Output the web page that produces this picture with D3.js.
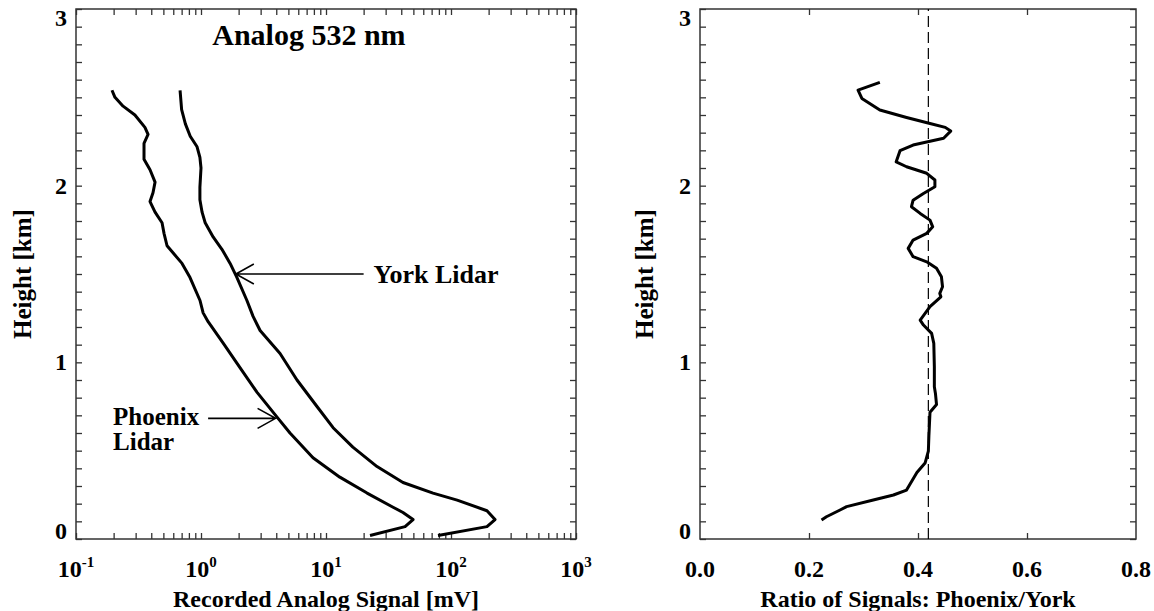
<!DOCTYPE html>
<html>
<head>
<meta charset="utf-8">
<script src="https://cdn.jsdelivr.net/npm/d3@7"></script>
<style>
  body { margin: 0; background: #fff; }
  text { font-family: "Liberation Serif", "Times New Roman", serif; font-weight: bold; fill: #000; }
</style>
</head>
<body>
<svg id="chart" width="1154" height="611"></svg>
<script>
// Lidar profiles, values
const yorkHeight = [2.54, 2.43, 2.35, 2.28, 2.22, 2.16, 2.10, 1.99, 1.92, 1.85, 1.79, 1.71, 1.64, 1.56, 1.48, 1.35,
    1.26, 1.18, 1.05, 0.90, 0.75, 0.63, 0.52, 0.41, 0.32, 0.26, 0.22, 0.16, 0.11, 0.07, 0.02];
const yorkSignal = [0.68, 0.70, 0.75, 0.82, 0.93, 0.98, 1.00, 0.98, 0.98, 1.02, 1.08, 1.25, 1.47, 1.71, 1.94, 2.33,
    2.61, 2.97, 4.29, 5.86, 8.47, 11.4, 16.4, 25.6, 41.3, 71.8, 112, 194, 225, 194, 78.7];

const phoenixHeight = [2.54, 2.50, 2.45, 2.40, 2.33, 2.29, 2.24, 2.15, 2.09, 2.02, 1.96, 1.91, 1.85, 1.79, 1.73, 1.66,
    1.62, 1.56, 1.48, 1.35, 1.28, 1.23, 1.11, 0.97, 0.83, 0.69, 0.60, 0.46, 0.35, 0.26, 0.18, 0.15, 0.11, 0.07, 0.02];
const phoenixSignal = [0.194, 0.205, 0.238, 0.296, 0.356, 0.377, 0.350, 0.350, 0.391, 0.429, 0.413, 0.391, 0.429, 0.488,
    0.506, 0.535, 0.597, 0.705, 0.817, 0.982, 1.04, 1.14, 1.50, 2.05, 2.81, 4.06, 5.15, 7.87, 12.9, 21.3, 34.4, 41.3,
    49.7, 42.9, 22.5];

const ratioHeight = [2.585, 2.541, 2.494, 2.428, 2.386, 2.352, 2.330, 2.309, 2.268, 2.230, 2.198, 2.135, 2.107, 2.070,
    2.032, 1.994, 1.956, 1.918, 1.881, 1.843, 1.805, 1.767, 1.730, 1.692, 1.645, 1.598, 1.569, 1.532, 1.484, 1.428,
    1.390, 1.371, 1.315, 1.239, 1.211, 1.164, 1.107, 0.975, 0.862, 0.824, 0.761, 0.717, 0.585, 0.497, 0.430, 0.376,
    0.277, 0.249, 0.221, 0.183, 0.164, 0.126, 0.108];
const ratioValue = [0.330, 0.290, 0.297, 0.330, 0.379, 0.422, 0.450, 0.460, 0.447, 0.391, 0.367, 0.360, 0.379, 0.416,
    0.431, 0.431, 0.410, 0.391, 0.388, 0.404, 0.422, 0.427, 0.416, 0.391, 0.382, 0.391, 0.416, 0.434, 0.443, 0.445,
    0.440, 0.442, 0.422, 0.404, 0.410, 0.425, 0.429, 0.430, 0.430, 0.432, 0.434, 0.422, 0.420, 0.419, 0.413, 0.398,
    0.379, 0.355, 0.318, 0.269, 0.257, 0.232, 0.223];
const meanRatio = 0.419;

// tick labels
const heightTicks = [0, 1, 2, 3];
const decadeTicks = [0.1, 1, 10, 100, 1000];
const decadeExponents = ['-1', '0', '1', '2', '3'];
const ratioTicks = [0.0, 0.2, 0.4, 0.6, 0.8];
const ratioLabels = ['0.0', '0.2', '0.4', '0.6', '0.8'];

(function(){
    'use strict';

    const svg = d3.select('#chart');
    svg.append('rect').attr('width', 1154).attr('height', 611).attr('fill', '#fff');

    const plotTop = 9, plotBottom = 539;
    const y = d3.scaleLinear().domain([0, 3]).range([plotBottom, plotTop]);
    const xL = d3.scaleLog().domain([0.1, 1000]).range([76, 576]);
    const xR = d3.scaleLinear().domain([0, 0.8]).range([700, 1136]);

    const minorHeights = d3.range(0, 31).map(i => i / 10);

    // box with inward ticks on all four sides
    function frame(x, xTickValues){
        const [x0, x1] = x.range();
        const g = svg.append('g');
        const axes = [
            [d3.axisBottom(x).tickValues(xTickValues), `translate(0,${plotBottom})`],
            [d3.axisTop(x).tickValues(xTickValues), `translate(0,${plotTop})`],
            [d3.axisLeft(y).tickValues(minorHeights), `translate(${x0},0)`],
            [d3.axisRight(y).tickValues(minorHeights), `translate(${x1},0)`]
        ];
        axes.forEach(([axis, tr]) => {
            g.append('g').attr('transform', tr)
                .call(axis.tickSize(-6).tickFormat(''))
                .call(a => a.select('.domain').remove())
                .selectAll('line').attr('stroke', '#333').attr('stroke-width', 1.3);
        });
        g.append('rect')
            .attr('x', x0).attr('y', plotTop)
            .attr('width', x1 - x0).attr('height', plotBottom - plotTop)
            .attr('fill', 'none').attr('stroke', '#333').attr('stroke-width', 1.5);

        // height labels, end labels kept inside the frame like the original
        g.append('g').selectAll('text')
            .data(heightTicks)
            .enter()
            .append('text')
                .attr('x', x0 - 9)
                .attr('y', d => y(d))
                .attr('dy', d => d === 3 ? 17 : d === 0 ? 0 : 8)
                .attr('text-anchor', 'end')
                .attr('font-size', 24)
                .text(d => d);
        return g;
    }

    frame(xL, xL.ticks());
    frame(xR, [0.2, 0.4, 0.6]);

    // log axis labels 10^n
    const decLab = svg.append('g').selectAll('text')
        .data(decadeTicks)
        .enter()
        .append('text')
            .attr('x', d => xL(d))
            .attr('y', 577)
            .attr('text-anchor', 'middle')
            .attr('font-size', 24);
    decLab.append('tspan').text('10');
    decLab.append('tspan').attr('font-size', 15).attr('dy', -10).text((d, i) => decadeExponents[i]);

    svg.append('g').selectAll('text')
        .data(ratioTicks)
        .enter()
        .append('text')
            .attr('x', d => xR(d))
            .attr('y', 577)
            .attr('text-anchor', 'middle')
            .attr('font-size', 24)
            .text((d, i) => ratioLabels[i]);

    // axis titles
    svg.append('text').attr('x', 326).attr('y', 607).attr('text-anchor', 'middle')
        .attr('font-size', 24).text('Recorded Analog Signal [mV]');
    svg.append('text').attr('x', 918).attr('y', 607).attr('text-anchor', 'middle')
        .attr('font-size', 24).text('Ratio of Signals: Phoenix/York');
    [31, 653].forEach(bx => {
        svg.append('text')
            .attr('transform', `translate(${bx},274) rotate(-90)`)
            .attr('text-anchor', 'middle')
            .attr('font-size', 25)
            .text('Height [km]');
    });

    // profiles
    const lineL = d3.line().x(d => xL(d[1])).y(d => y(d[0]));
    const lineR = d3.line().x(d => xR(d[1])).y(d => y(d[0]));

    [[yorkHeight, yorkSignal], [phoenixHeight, phoenixSignal]].forEach(([h, v]) => {
        svg.append('path')
            .datum(d3.zip(h, v))
            .attr('d', lineL)
            .attr('fill', 'none').attr('stroke', '#000')
            .attr('stroke-width', 3).attr('stroke-linejoin', 'round');
    });

    svg.append('path')
        .datum([[0, meanRatio], [3, meanRatio]])
        .attr('d', lineR)
        .attr('fill', 'none').attr('stroke', '#000')
        .attr('stroke-width', 1.2).attr('stroke-dasharray', '11,5');

    svg.append('path')
        .datum(d3.zip(ratioHeight, ratioValue))
        .attr('d', lineR)
        .attr('fill', 'none').attr('stroke', '#000')
        .attr('stroke-width', 3).attr('stroke-linejoin', 'round');

    // annotations
    svg.append('text').attr('x', xL(7.3)).attr('y', y(2.796)).attr('text-anchor', 'middle')
        .attr('font-size', 30).text('Analog 532 nm');

    function arrow(fromV, toV, h){
        const xa = xL(fromV), xb = xL(toV), yy = y(h);
        const dir = xb < xa ? 1 : -1;
        svg.append('path')
            .attr('d', `M${xa},${yy}L${xb},${yy}M${xb + dir * 18},${yy - 10}L${xb},${yy}L${xb + dir * 18},${yy + 10}`)
            .attr('fill', 'none').attr('stroke', '#000').attr('stroke-width', 1.6);
    }
    arrow(20, 1.9, 1.5);
    arrow(1.14, 3.95, 0.683);

    svg.append('text').attr('x', xL(24)).attr('y', y(1.449)).attr('font-size', 26).text('York Lidar');
    svg.append('text').attr('x', xL(0.198)).attr('y', y(0.645)).attr('font-size', 25).text('Phoenix');
    svg.append('text').attr('x', xL(0.198)).attr('y', y(0.504)).attr('font-size', 25).text('Lidar');
})();
</script>
</body>
</html>
